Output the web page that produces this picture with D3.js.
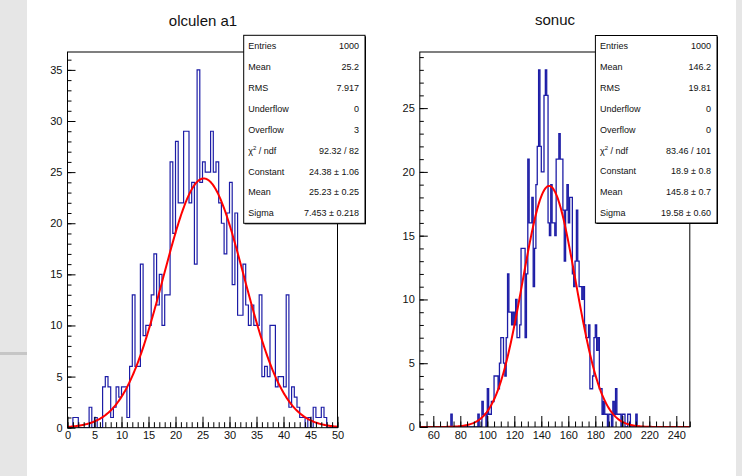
<!DOCTYPE html>
<html>
<head>
<meta charset="utf-8">
<script src="https://cdn.jsdelivr.net/npm/d3@7"></script>
<style>
  body { margin: 0; background: #e9e9e9; }
  svg { display: block; }
  text { font-family: "Liberation Sans", Arial, Helvetica, sans-serif; fill: #111; }
</style>
</head>
<body>
<svg id="canvas" width="742" height="476"></svg>
<script>
// ---- data ----
const leftTitle = "olculen a1";
const leftRange = [0, 50];
// 100 bins of width 0.5
const leftCounts = [
  0, 0, 1, 1, 0, 0, 0, 0, 2, 0,
  1, 0, 0, 4, 5, 4, 1, 2, 4, 3,
  4, 4, 1, 6, 13, 6, 6, 16, 9, 10,
  10, 13, 17, 12, 15, 10, 13, 13, 26, 19,
  28, 22, 22, 29, 29, 22, 24, 16, 35, 24,
  26, 25, 25, 29, 25, 26, 22, 20, 17, 21,
  24, 14, 21, 11, 11, 16, 12, 10, 12, 10,
  10, 13, 5, 6, 5, 10, 10, 4, 5, 5,
  4, 13, 2, 4, 3, 2, 1, 1, 0, 1,
  0, 2, 1, 1, 2, 1, 0, 0, 0, 0
];
const leftFit = [24.38, 25.23, 7.453]; // constant, mean, sigma
const leftStatLabels = ["Entries", "Mean", "RMS", "Underflow", "Overflow", "chi2", "Constant", "Mean", "Sigma"];
const leftStatValues = ["1000", "25.2", "7.917", "0", "3", "92.32 / 82", "24.38 \u00b1 1.06", "25.23 \u00b1 0.25", "7.453 \u00b1 0.218"];
const leftXTicks = [0, 5, 10, 15, 20, 25, 30, 35, 40, 45, 50];
const leftYTicks = [0, 5, 10, 15, 20, 25, 30, 35];

const rightTitle = "sonuc";
const rightRange = [50, 250];
// 200 bins of width 1, starting at 50
const rightCounts = [
  0, 0, 0, 0, 0, 0, 0, 0, 0, 0,
  0, 0, 0, 0, 0, 0, 0, 0, 0, 0,
  0, 0, 0, 1, 0, 0, 0, 0, 0, 0,
  0, 0, 0, 0, 0, 0, 0, 0, 0, 0,
  0, 0, 0, 1, 0, 0, 2, 1, 1, 0,
  3, 1, 1, 2, 2, 4, 4, 4, 3, 5,
  7, 7, 5, 4, 7, 12, 9, 9, 8, 9,
  8, 10, 7, 7, 8, 14, 14, 14, 7, 12,
  21, 16, 16, 18, 11, 14, 19, 22, 28, 22,
  20, 20, 26, 28, 26, 16, 15, 19, 16, 16,
  15, 21, 21, 23, 21, 21, 17, 13, 17, 19,
  16, 18, 18, 12, 11, 13, 17, 13, 11, 11,
  10, 11, 8, 7, 7, 8, 3, 3, 4, 7,
  8, 6, 7, 3, 3, 1, 2, 1, 1, 0,
  1, 1, 0, 2, 1, 3, 1, 1, 1, 0,
  1, 1, 0, 0, 1, 1, 0, 0, 0, 0,
  1, 0, 0, 0, 0, 0, 0, 0, 0, 0,
  0, 0, 0, 0, 0, 0, 0, 0, 0, 0,
  0, 0, 0, 0, 0, 0, 0, 0, 0, 0,
  0, 0, 0, 0, 0, 0, 0, 0, 0, 0
];
const rightFit = [18.9, 145.8, 19.58];
const rightStatLabels = ["Entries", "Mean", "RMS", "Underflow", "Overflow", "chi2", "Constant", "Mean", "Sigma"];
const rightStatValues = ["1000", "146.2", "19.81", "0", "0", "83.46 / 101", "18.9 \u00b1 0.8", "145.8 \u00b1 0.7", "19.58 \u00b1 0.60"];
const rightXTicks = [60, 80, 100, 120, 140, 160, 180, 200, 220, 240];
const rightYTicks = [0, 5, 10, 15, 20, 25];

const svg = d3.select("#canvas");

// screenshot surroundings: grey strip on the left, white canvas
svg.append("rect").attr("x", 0).attr("y", 0).attr("width", 742).attr("height", 476).attr("fill", "#e6e6e6");
svg.append("rect").attr("x", 0).attr("y", 352).attr("width", 27).attr("height", 3).attr("fill", "#b8b8b8").attr("opacity", 0.7);
svg.append("rect").attr("x", 27).attr("y", 0).attr("width", 709).attr("height", 476).attr("fill", "#ffffff");

function drawPanel(p) {
    const g = svg.append("g");
    const yMax = d3.max(p.counts) * 1.05;

    const x = d3.scaleLinear().domain(p.range).range([p.left, p.right]);
    const y = d3.scaleLinear().domain([0, yMax]).range([p.bottom, p.top]);
    const binW = (p.range[1] - p.range[0]) / p.counts.length;

    const clipId = "clip" + p.id;
    svg.append("clipPath").attr("id", clipId)
        .append("rect")
        .attr("x", p.left).attr("y", p.top)
        .attr("width", p.right - p.left).attr("height", p.bottom - p.top);

    // histogram outline
    const pts = [[p.range[0], 0]];
    p.counts.forEach((c, i) => {
        const lo = p.range[0] + i * binW;
        pts.push([lo, c], [lo + binW, c]);
    });
    pts.push([p.range[1], 0]);

    g.append("path")
        .datum(pts)
        .attr("clip-path", `url(#${clipId})`)
        .attr("fill", "none")
        .attr("stroke", "#1c1ca6")
        .attr("stroke-width", p.lineW)
        .attr("d", d3.line().x(d => x(d[0])).y(d => y(d[1])));

    // gaussian fit from the fitted parameters
    const [A, mu, sig] = p.fit;
    const fitPts = d3.range(0, 401).map(k => {
        const xv = p.range[0] + (p.range[1] - p.range[0]) * k / 400;
        return [xv, A * Math.exp(-0.5 * ((xv - mu) / sig) ** 2)];
    });
    g.append("path")
        .datum(fitPts)
        .attr("clip-path", `url(#${clipId})`)
        .attr("fill", "none")
        .attr("stroke", "#ff0000")
        .attr("stroke-width", 2)
        .attr("d", d3.line().x(d => x(d[0])).y(d => y(d[1])));

    // axes: ticks inside the frame
    const xMinor = d3.range(p.range[0], p.range[1] + 1e-9, p.xMinorStep);
    const yMinor = d3.range(0, yMax, 1);

    const xMinorAxis = g.append("g")
        .attr("transform", `translate(0,${p.bottom})`)
        .call(d3.axisBottom(x).tickValues(xMinor).tickSize(-5.5).tickSizeOuter(0).tickFormat(""));
    const xAxis = g.append("g")
        .attr("transform", `translate(0,${p.bottom})`)
        .call(d3.axisBottom(x).tickValues(p.xTicks).tickSize(-11).tickSizeOuter(0).tickPadding(4));
    const yMinorAxis = g.append("g")
        .attr("transform", `translate(${p.left},0)`)
        .call(d3.axisLeft(y).tickValues(yMinor).tickSize(-4).tickSizeOuter(0).tickFormat(""));
    const yAxis = g.append("g")
        .attr("transform", `translate(${p.left},0)`)
        .call(d3.axisLeft(y).tickValues(p.yTicks).tickSize(-8).tickSizeOuter(0).tickPadding(5));

    [xMinorAxis, xAxis, yMinorAxis, yAxis].forEach(a => {
        a.select(".domain").remove();
        a.selectAll("line").attr("stroke", "#000");
        a.selectAll("text").style("font-size", "11px").attr("fill", "#1a1a1a");
    });

    // frame
    g.append("rect")
        .attr("x", p.left).attr("y", p.top)
        .attr("width", p.right - p.left).attr("height", p.bottom - p.top)
        .attr("fill", "none").attr("stroke", "#000").attr("stroke-width", 1);

    // title
    g.append("text")
        .attr("x", p.titleX).attr("y", p.titleY)
        .attr("text-anchor", "middle")
        .style("font-size", "15px")
        .text(p.title);

    // stats box
    const b = p.box;
    g.append("rect")
        .attr("x", b.x + 1).attr("y", b.y + 1).attr("width", b.w).attr("height", b.h)
        .attr("fill", "#000");
    g.append("rect")
        .attr("x", b.x).attr("y", b.y).attr("width", b.w).attr("height", b.h)
        .attr("fill", "#fff").attr("stroke", "#000").attr("stroke-width", 1);

    const rowH = b.h / p.statLabels.length;
    p.statLabels.forEach((lab, i) => {
        const ty = b.y + (i + 0.5) * rowH + 3.5;
        const t = g.append("text")
            .attr("x", b.x + 4.5).attr("y", ty)
            .style("font-size", "9px");
        if (lab === "chi2") {
            t.append("tspan").text("\u03c7");
            t.append("tspan").attr("dy", -4).style("font-size", "6px").text("2");
            t.append("tspan").attr("dy", 4).text(" / ndf");
        } else {
            t.text(lab);
        }
        g.append("text")
            .attr("x", b.x + b.w - 6).attr("y", ty)
            .attr("text-anchor", "end")
            .style("font-size", "9px")
            .text(p.statValues[i]);
    });
}

drawPanel({
    id: "L", title: leftTitle, titleX: 203, titleY: 26,
    range: leftRange, counts: leftCounts, fit: leftFit, lineW: 1.2,
    left: 67.5, right: 337.5, top: 52, bottom: 427.7,
    xTicks: leftXTicks, yTicks: leftYTicks, xMinorStep: 1,
    box: { x: 243.7, y: 35.3, w: 121.3, h: 188 },
    statLabels: leftStatLabels, statValues: leftStatValues
});

drawPanel({
    id: "R", title: rightTitle, titleX: 555, titleY: 24.5,
    range: rightRange, counts: rightCounts, fit: rightFit, lineW: 1.3,
    left: 419.8, right: 689.8, top: 52, bottom: 427,
    xTicks: rightXTicks, yTicks: rightYTicks, xMinorStep: 5,
    box: { x: 595.4, y: 35.5, w: 121.6, h: 187.5 },
    statLabels: rightStatLabels, statValues: rightStatValues
});
</script>
</body>
</html>
